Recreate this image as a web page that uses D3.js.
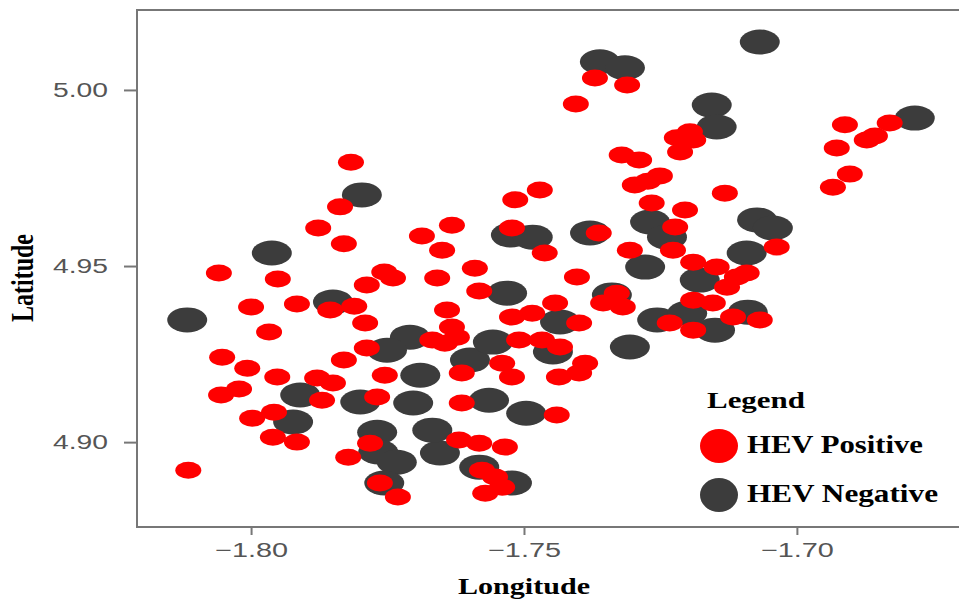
<!DOCTYPE html>
<html>
<head>
<meta charset="utf-8">
<script src="https://cdn.jsdelivr.net/npm/d3@7"></script>
<style>
  body { margin: 0; background: #fff; }
  svg { display: block; }
</style>
</head>
<body>
<svg id="chart" width="959" height="603"></svg>
<script>
// HEV positive sites (red)
var posLon = [-1.8115,-1.8059,-1.8053,-1.8055,-1.8022,-1.8007,-1.7998,-1.7958,-1.7952,-1.7967,
  -1.8000,-1.7916,-1.7951,-1.7817,-1.7837,-1.7877,-1.7830,-1.7855,-1.7811,-1.7791,
  -1.7830,-1.7756,-1.7740,-1.7788,-1.7879,-1.7850,-1.7870,-1.7960,-1.7916,-1.7822,
  -1.7788,-1.7755,-1.7769,-1.7782,-1.7764,-1.7731,-1.7687,-1.7632,-1.7650,-1.7590,
  -1.7659,-1.7582,-1.7641,-1.7522,-1.7462,-1.7516,-1.7471,-1.7405,-1.7370,-1.7311,
  -1.7363,-1.7403,-1.7321,-1.7289,-1.7297,-1.7273,-1.7251,-1.7266,-1.7223,-1.7205,
  -1.7306,-1.7227,-1.7220,-1.7190,-1.7214,-1.7196,-1.7132,-1.6912,-1.6872,-1.6857,
  -1.6927,-1.6903,-1.6934,-1.6830,-1.7190,-1.7147,-1.7110,-1.7092,-1.7128,-1.7330,
  -1.7355,-1.7319,-1.7190,-1.7154,-1.7117,-1.7068,-1.7233,-1.7190,-1.7443,-1.7485,
  -1.7522,-1.7399,-1.7668,-1.7645,-1.7632,-1.7623,-1.7509,-1.7467,-1.7614,-1.7540,
  -1.7522,-1.7436,-1.7399,-1.7388,-1.7434,-1.7614,-1.7440,-1.7619,-1.7582,-1.7535,
  -1.7577,-1.7553,-1.7571,-1.7540,-1.7037];
var posLat = [4.8920,4.9480,4.9241,4.9134,4.9151,4.9210,4.9068,4.9085,4.9185,4.9313,
  4.9384,4.9392,4.9463,4.9795,4.9668,4.9608,4.9563,4.9375,4.9386,4.9338,
  4.9233,4.9483,4.9466,4.9446,4.9182,4.9168,4.9119,4.9014,4.9000,4.8957,
  4.9267,4.9190,4.9128,4.8997,4.8884,4.8844,4.9585,4.9616,4.9545,4.9494,
  4.9466,4.9429,4.9375,4.9608,4.9537,4.9688,4.9716,4.9960,5.0034,5.0014,
  4.9594,4.9469,4.9815,4.9801,4.9730,4.9741,4.9756,4.9679,4.9611,4.9659,
  4.9545,4.9545,4.9864,4.9858,4.9824,4.9881,4.9707,4.9901,4.9858,4.9869,
  4.9835,4.9761,4.9724,4.9906,4.9511,4.9497,4.9469,4.9480,4.9440,4.9423,
  4.9395,4.9384,4.9403,4.9395,4.9355,4.9347,4.9338,4.9318,4.9395,4.9366,
  4.9355,4.9338,4.9290,4.9281,4.9327,4.9298,4.9290,4.9290,4.9196,4.9224,
  4.9185,4.9185,4.9196,4.9224,4.9270,4.9111,4.9077,4.9006,4.8997,4.8986,
  4.8920,4.8901,4.8855,4.8872,4.9554];

// HEV negative sites (dark grey)
var negLon = [-1.8117,-1.7962,-1.7797,-1.7850,-1.7910,-1.7923,-1.7800,-1.7769,-1.7767,-1.7733,
  -1.7756,-1.7709,-1.7751,-1.7690,-1.7703,-1.7654,-1.7668,-1.7564,-1.7599,-1.7557,
  -1.7531,-1.7582,-1.7522,-1.7496,-1.7447,-1.7434,-1.7524,-1.7484,-1.7379,-1.7361,
  -1.7315,-1.7068,-1.7156,-1.7147,-1.6784,-1.7269,-1.7238,-1.7278,-1.7073,-1.7044,
  -1.7092,-1.7178,-1.7306,-1.7256,-1.7201,-1.7150,-1.7090,-1.7339];
var negLat = [4.9347,4.9537,4.9702,4.9398,4.9134,4.9057,4.9114,4.9028,4.8972,4.8943,
  4.8884,4.9298,4.9261,4.9190,4.9111,4.8969,4.9034,4.9119,4.9233,4.9284,
  4.9423,4.8929,4.8884,4.9082,4.9256,4.9341,4.9588,4.9582,4.9594,5.0080,
  5.0063,5.0136,4.9957,4.9895,4.9920,4.9625,4.9582,4.9497,4.9631,4.9608,
  4.9537,4.9460,4.9270,4.9347,4.9366,4.9318,4.9369,4.9418];

var xTicks = [-1.80, -1.75, -1.70];
var xTickLabels = ["\u22121.80", "\u22121.75", "\u22121.70"];
var yTicks = [4.90, 4.95, 5.00];
var yTickLabels = ["4.90", "4.95", "5.00"];
var legendLabels = ["HEV Positive", "HEV Negative"];
var colors = ["#ff0000", "#3c3c3c"];

var svg = d3.select("#chart");
var plotLeft = 137, plotRight = 959, plotTop = 10, plotBottom = 527;

var x = d3.scaleLinear().domain([-1.8209, -1.6703]).range([plotLeft, plotRight]);
var y = d3.scaleLinear().domain([4.8759, 5.0227]).range([plotBottom, plotTop]);

var pos = posLon.map(function(d, i){ return {lon: d, lat: posLat[i]}; });
var neg = negLon.map(function(d, i){ return {lon: d, lat: negLat[i]}; });

// points: negatives underneath, positives on top
svg.append("g").selectAll("ellipse").data(neg).enter().append("ellipse")
  .attr("cx", function(d){ return x(d.lon); })
  .attr("cy", function(d){ return y(d.lat); })
  .attr("rx", 20).attr("ry", 12.5)
  .attr("fill", colors[1]);

svg.append("g").selectAll("ellipse").data(pos).enter().append("ellipse")
  .attr("cx", function(d){ return x(d.lon); })
  .attr("cy", function(d){ return y(d.lat); })
  .attr("rx", 13).attr("ry", 8.5)
  .attr("fill", colors[0]);

// panel lines (top, left, bottom)
svg.append("path")
  .attr("d", "M" + plotRight + "," + plotTop + "H" + plotLeft + "V" + plotBottom + "H" + plotRight)
  .attr("fill", "none").attr("stroke", "#777").attr("stroke-width", 2);

// axes
var xAxis = svg.append("g").attr("transform", "translate(0," + plotBottom + ")")
  .call(d3.axisBottom(x).tickValues(xTicks).tickSize(8).tickPadding(8)
    .tickFormat(function(d, i){ return xTickLabels[i]; }));
var yAxis = svg.append("g").attr("transform", "translate(" + plotLeft + ",0)")
  .call(d3.axisLeft(y).tickValues(yTicks).tickSize(13).tickPadding(16)
    .tickFormat(function(d, i){ return yTickLabels[i]; }));

[xAxis, yAxis].forEach(function(a){
  a.select(".domain").remove();
  a.selectAll(".tick line").attr("stroke", "#777").attr("stroke-width", 2);
  a.selectAll(".tick text")
    .attr("fill", "#555")
    .style("font-family", "'Liberation Sans', Arial, sans-serif")
    .style("font-size", "20px");
});
xAxis.selectAll(".tick text").attr("textLength", 73).attr("lengthAdjust", "spacingAndGlyphs");
yAxis.selectAll(".tick text").attr("textLength", 55).attr("lengthAdjust", "spacingAndGlyphs");

var serif = "'Liberation Serif', 'Times New Roman', serif";

// axis titles
svg.append("text")
  .attr("x", 524).attr("y", 594)
  .attr("text-anchor", "middle")
  .attr("textLength", 132).attr("lengthAdjust", "spacingAndGlyphs")
  .style("font-family", serif).style("font-weight", "bold").style("font-size", "24px")
  .text("Longitude");

svg.append("text")
  .attr("transform", "translate(33,278) scale(1.35,1) rotate(-90)")
  .attr("text-anchor", "middle")
  .style("font-family", serif).style("font-weight", "bold").style("font-size", "24px")
  .text("Latitude");

// legend
var lg = svg.append("g");
lg.append("text")
  .attr("x", 707).attr("y", 408)
  .attr("textLength", 98).attr("lengthAdjust", "spacingAndGlyphs")
  .style("font-family", serif).style("font-weight", "bold").style("font-size", "24px")
  .text("Legend");

var keyY = [446, 495];
var keyW = [176, 191];
legendLabels.forEach(function(lab, i){
  lg.append("ellipse")
    .attr("cx", 719).attr("cy", keyY[i])
    .attr("rx", 19).attr("ry", 17)
    .attr("fill", colors[i]);
  lg.append("text")
    .attr("x", 747).attr("y", keyY[i] + 7)
    .attr("textLength", keyW[i]).attr("lengthAdjust", "spacingAndGlyphs")
    .style("font-family", serif).style("font-weight", "bold").style("font-size", "26px")
    .text(lab);
});
</script>
</body>
</html>
